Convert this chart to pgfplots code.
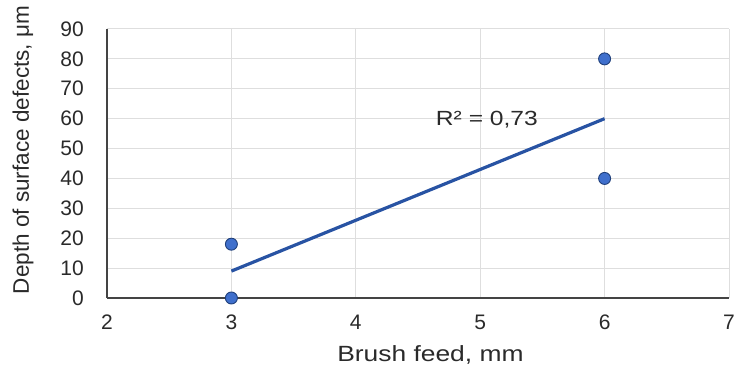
\documentclass[border=0pt]{standalone}
\usepackage{pgfplots}
\pgfplotsset{compat=1.18}
\usepackage{fontspec}
\setmainfont{Liberation Sans}
\newfontfamily\widefont{Liberation Sans}[FakeStretch=1.2]
\definecolor{ptblue}{HTML}{3F6FCC}
\definecolor{ptedge}{HTML}{1F3F7A}
\definecolor{trend}{HTML}{2853A3}
\definecolor{gridc}{HTML}{DEDEDE}
\definecolor{axc}{HTML}{444444}
\definecolor{txt}{HTML}{2A2A2A}
\begin{document}
\begin{tikzpicture}
\begin{axis}[
  scale only axis,
  width=622pt, height=269pt,
  xmin=2, xmax=7, ymin=0, ymax=90,
  xtick={2,3,4,5,6,7}, ytick={0,10,...,90},
  axis lines*=left,
  axis line style={axc, line width=1.8pt},
  major tick length=0pt,
  grid=major,
  major grid style={gridc, line width=1pt},
  tick label style={font=\fontsize{21}{24}\selectfont, text=txt, inner sep=0pt},
  /pgf/number format/assume math mode=true,
  xticklabel style={anchor=north, yshift=-17pt},
  yticklabel style={anchor=east, xshift=-23pt},
  clip=false,
]
\addplot[trend, line width=3.2pt] coordinates {(3,9) (6,60)};
\addplot[only marks, mark=*, mark size=6pt, mark options={fill=ptblue, draw=ptedge, line width=0.9pt}] coordinates {(3,18) (3,0) (6,80) (6,40)};
\node[font=\widefont\fontsize{20.5}{22}\selectfont, text=txt] at (axis cs:5.054,59.5) {R² = 0,73};
\node[font=\widefont\fontsize{22}{24}\selectfont, text=txt, inner sep=0pt] at ([yshift=-57pt]rel axis cs:0.52,0) {Brush feed, mm};
\node[font=\fontsize{22.5}{24}\selectfont, text=txt, inner sep=0pt, rotate=90] at ([xshift=-84pt]rel axis cs:0,0.55) {Depth of surface defects, μm};
\coordinate (bl) at (rel axis cs:0,0);
\coordinate (tr) at (rel axis cs:1,1);
\end{axis}
\pgfresetboundingbox
\path ([shift={(-107pt,-75pt)}]bl) rectangle ([shift={(8pt,29pt)}]tr);
\end{tikzpicture}
\end{document}
